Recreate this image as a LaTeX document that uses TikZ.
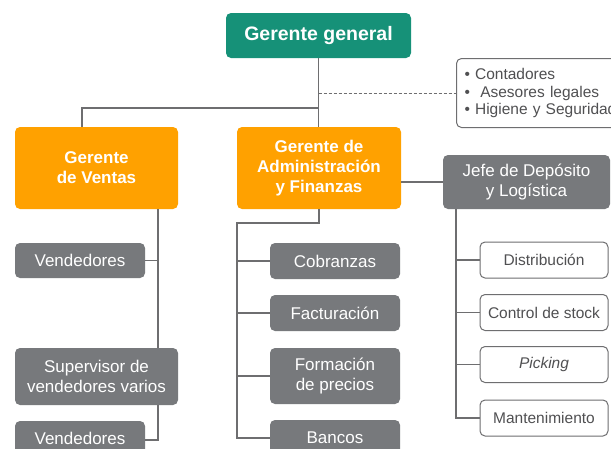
\documentclass[tikz,border=0pt]{standalone}
\usepackage{fontspec}
\setmainfont{Liberation Sans}
\usetikzlibrary{calc}
\definecolor{teal1}{RGB}{22,145,120}
\definecolor{orange1}{RGB}{255,161,0}
\definecolor{grey1}{RGB}{119,121,124}
\definecolor{line1}{RGB}{110,110,112}
\definecolor{txt1}{RGB}{80,80,82}
\tikzset{
  box/.style={rounded corners=5pt, inner sep=2pt, align=center},
  topbox/.style={box, fill=teal1, text=white, font=\bfseries\fontsize{19.5}{22}\selectfont},
  orbox/.style={box, fill=orange1, text=white, font=\bfseries\fontsize{17}{20}\selectfont},
  greybox/.style={box, fill=grey1, text=white, font=\fontsize{17}{19.5}\selectfont},
  whitebox/.style={box, draw=line1, line width=1pt, fill=white, text=txt1, font=\fontsize{15.5}{18}\selectfont},
  conn/.style={draw=line1, line width=1.2pt},
}
\begin{document}
\begin{tikzpicture}[x=1pt,y=-1pt]
\clip (0,0) rectangle (611,448);
\fill[white] (0,0) rectangle (611,448);

\node[topbox, minimum width=185pt, minimum height=45pt] (gg) at (318.5,35.5) {Gerente general};
\node[whitebox, anchor=north west, minimum width=175pt, minimum height=69pt, align=left, inner xsep=8pt, text width=160pt, font=\fontsize{15.5}{17.5}\selectfont] (note) at (456,58) {• Contadores\\•\ \ Asesores legales\\• Higiene y Seguridad};

\node[orbox, minimum width=163pt, minimum height=82pt] (ventas) at (96.5,168) {Gerente\\de Ventas};
\node[orbox, minimum width=164pt, minimum height=82pt] (admin) at (319,168) {Gerente de\\Administración\\y Finanzas};
\node[greybox, minimum width=167pt, minimum height=54pt] (jefe) at (526.5,182) {Jefe de Depósito\\y Logística};

\node[greybox, minimum width=130pt, minimum height=35pt] (vend1) at (80,260.5) {Vendedores};
\node[greybox, minimum width=163pt, minimum height=57pt] (sup) at (96.5,376.5) {Supervisor de\\vendedores varios};
\node[greybox, minimum width=130pt, minimum height=35pt] (vend2) at (80,438.5) {Vendedores};

\node[greybox, minimum width=130pt, minimum height=36pt] (cob) at (335,261) {Cobranzas};
\node[greybox, minimum width=130pt, minimum height=36pt] (fac) at (335,313) {Facturación};
\node[greybox, minimum width=130pt, minimum height=56pt] (form) at (335,376) {Formación\\de precios};
\node[greybox, minimum width=130pt, minimum height=36pt] (ban) at (335,438) {Bancos};

\node[whitebox, minimum width=128pt, minimum height=36pt] (dist) at (544,260) {Distribución};
\node[whitebox, minimum width=128pt, minimum height=36pt] (ctrl) at (544,312.5) {Control de stock};
\node[whitebox, minimum width=128pt, minimum height=36pt] (pick) at (544,364.5) {\itshape Picking};
\node[whitebox, minimum width=128pt, minimum height=36pt] (mant) at (544,418) {Mantenimiento};

% top connectors
\coordinate (tv) at (82,108);
\draw[conn] (gg.south) -- (gg.south |- admin.north);
\draw[conn] (gg.south |- tv) -- (tv) -- (tv |- ventas.north);
\draw[conn, dashed, line width=1pt, dash pattern=on 3pt off 2pt] (gg.south |- note.west) -- (note.west);

% ventas column
\coordinate (vx) at (158,209);
\draw[conn] (vx) -- (vx |- sup.north);
\draw[conn] (vend1.east) -- (vend1.east -| vx);
\draw[conn] (vx |- sup.south) |- ([yshift=-1.5pt]vend2.east);

% admin column
\coordinate (ax) at (237,223);
\draw[conn] (admin.south) -- (admin.south |- ax) -- (ax) |- (ban.west);
\draw[conn] (ax |- cob.west) -- (cob.west);
\draw[conn] (ax |- fac.west) -- (fac.west);
\draw[conn] (ax |- form.west) -- (form.west);

% jefe column
\draw[conn] (jefe.west) -- (jefe.west -| admin.east);
\coordinate (jx) at (456,209);
\draw[conn] (jx) |- (mant.west);
\draw[conn] (jx |- dist.west) -- (dist.west);
\draw[conn] (jx |- ctrl.west) -- (ctrl.west);
\draw[conn] (jx |- pick.west) -- (pick.west);
\end{tikzpicture}
\end{document}
